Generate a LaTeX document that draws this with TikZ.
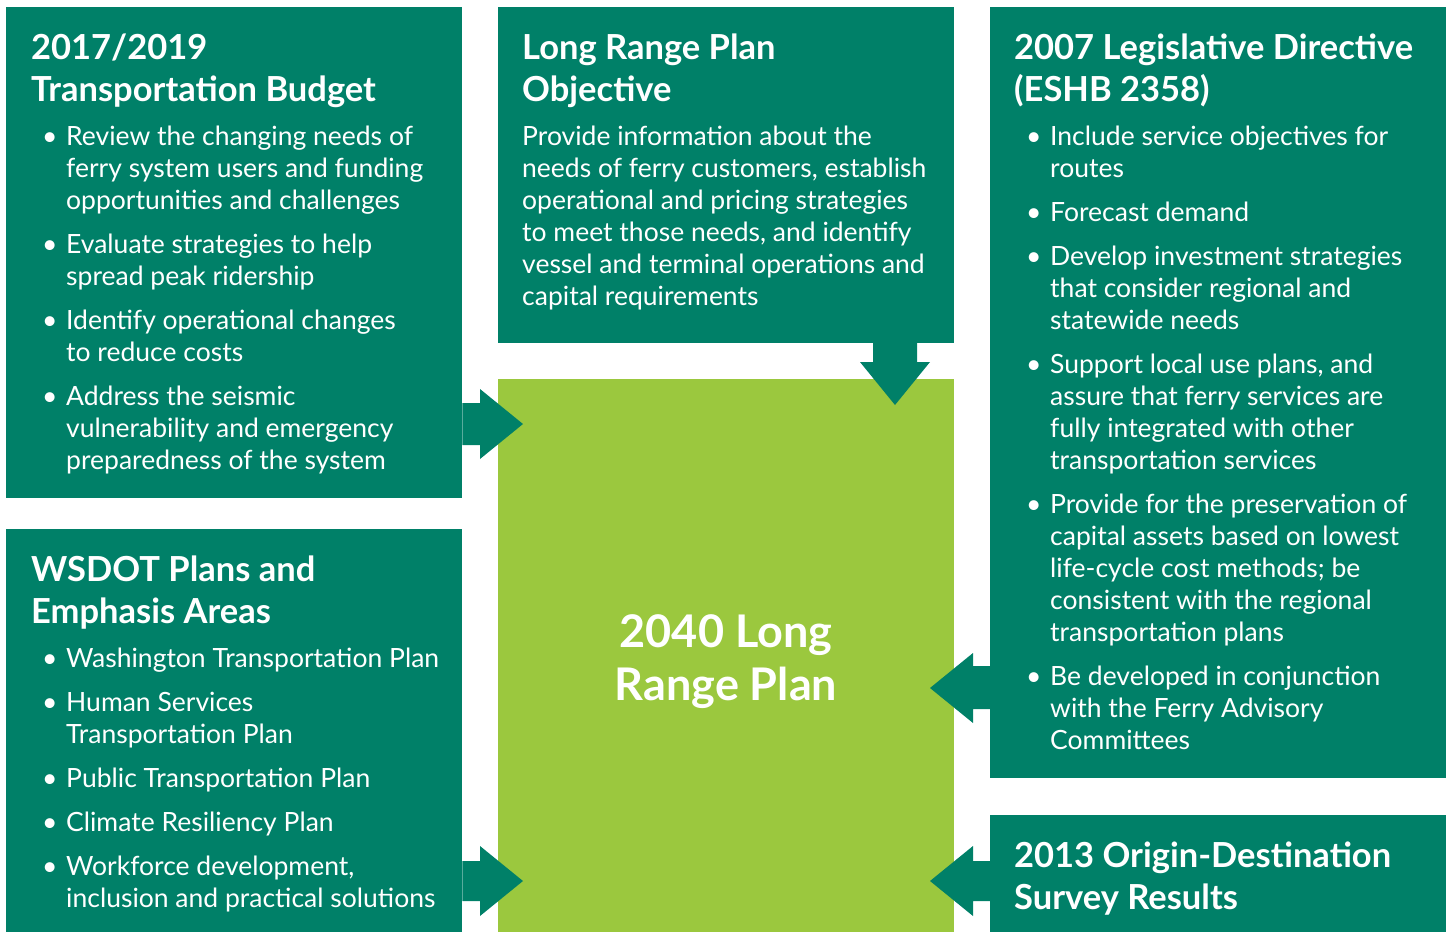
\documentclass[tikz,border=0pt]{standalone}
\usepackage{fontspec}
\setmainfont{Lato}
\definecolor{dg}{RGB}{0,128,104}
\definecolor{lg}{RGB}{155,200,62}
\newcommand{\bodyfont}{\fontsize{26.5}{32}\selectfont}
\newcommand{\headfont}{\bfseries\fontsize{34.5}{42}\selectfont}
\newcommand{\bitem}[1]{\hangindent=24pt\hangafter=1\noindent\makebox[24pt][l]{\textbullet}#1\par\vspace{12pt}}
\tikzset{
  panel/.style={fill=dg, draw=none, inner sep=0pt, anchor=north west},
  core/.style={fill=lg, draw=none, inner sep=0pt, anchor=north west},
  txt/.style={text=white, inner sep=0pt, anchor=base west},
  flow/.style={fill=dg, draw=none}
}
\begin{document}
\begin{tikzpicture}[x=1pt,y=-1pt]
\useasboundingbox (0,0) rectangle (1452,932);
% panels
\node[panel, minimum width=456pt, minimum height=491pt] (A) at (6,7) {};
\node[panel, minimum width=456pt, minimum height=403pt] (B) at (6,529) {};
\node[panel, minimum width=456pt, minimum height=336pt] (C) at (498,7) {};
\node[core, minimum width=456pt, minimum height=553pt] (G) at (498,379) {};
\node[panel, minimum width=456pt, minimum height=771pt] (D) at (990,7) {};
\node[panel, minimum width=456pt, minimum height=117pt] (E) at (990,815) {};
% titles
\node[txt] (At) at (31,59) {\parbox[t]{420pt}{\headfont 2017/2019\\Transportation Budget}};
\node[txt] (Ct) at (522,59) {\parbox[t]{420pt}{\headfont Long Range Plan\\Objective}};
\node[txt] (Dt) at (1014,59) {\parbox[t]{430pt}{\headfont 2007 Legislative Directive\\(ESHB 2358)}};
\node[txt] (Bt) at (31,581) {\parbox[t]{420pt}{\headfont WSDOT Plans and\\Emphasis Areas}};
\node[txt] (Et) at (1014,867) {\parbox[t]{430pt}{\headfont 2013 Origin-Destination\\Survey Results}};
% bodies
\node[txt] (Ab) at (42,145) {\parbox[t]{418pt}{\bodyfont
\bitem{Review the changing needs of\\ferry system users and funding\\opportunities and challenges}
\bitem{Evaluate strategies to help\\spread peak ridership}
\bitem{Identify operational changes\\to reduce costs}
\bitem{Address the seismic\\vulnerability and emergency\\preparedness of the system}}};
\node[txt] (Cb) at (522,145) {\parbox[t]{428pt}{\bodyfont
Provide information about the\\needs of ferry customers, establish\\operational and pricing strategies\\to meet those needs, and identify\\vessel and terminal operations and\\capital requirements}};
\node[txt] (Db) at (1026,145) {\parbox[t]{418pt}{\bodyfont
\bitem{Include service objectives for\\routes}
\bitem{Forecast demand}
\bitem{Develop investment strategies\\that consider regional and\\statewide needs}
\bitem{Support local use plans, and\\assure that ferry services are\\fully integrated with other\\transportation services}
\bitem{Provide for the preservation of\\capital assets based on lowest\\life-cycle cost methods; be\\consistent with the regional\\transportation plans}
\bitem{Be developed in conjunction\\with the Ferry Advisory\\Committees}}};
\node[txt] (Bb) at (42,667) {\parbox[t]{418pt}{\bodyfont
\bitem{Washington Transportation Plan}
\bitem{Human Services\\Transportation Plan}
\bitem{Public Transportation Plan}
\bitem{Climate Resiliency Plan}
\bitem{Workforce development,\\inclusion and practical solutions}}};
% centre
\node[text=white, inner sep=0pt, anchor=base] (Gt) at (726,647) {\parbox[t]{320pt}{\centering\bfseries\fontsize{45}{53}\selectfont 2040 Long\\Range Plan}};
% arrows
\fill[flow] (A.east |- 0,403) -- (480,403) -- (480,389) -- (523,424) -- (480,459) -- (480,445) -- (A.east |- 0,445) -- cycle;
\fill[flow] (B.east |- 0,861) -- (480,861) -- (480,846) -- (523,881) -- (480,916) -- (480,901) -- (B.east |- 0,901) -- cycle;
\fill[flow] (873,343) -- (873,362) -- (860,362) -- (895,405) -- (930,362) -- (917,362) -- (917,343) -- cycle;
\fill[flow] (D.west |- 0,666) -- (973,666) -- (973,653) -- (930,688) -- (973,723) -- (973,709) -- (D.west |- 0,709) -- cycle;
\fill[flow] (E.west |- 0,861) -- (973,861) -- (973,846) -- (930,881) -- (973,916) -- (973,901) -- (E.west |- 0,901) -- cycle;
\end{tikzpicture}
\end{document}
